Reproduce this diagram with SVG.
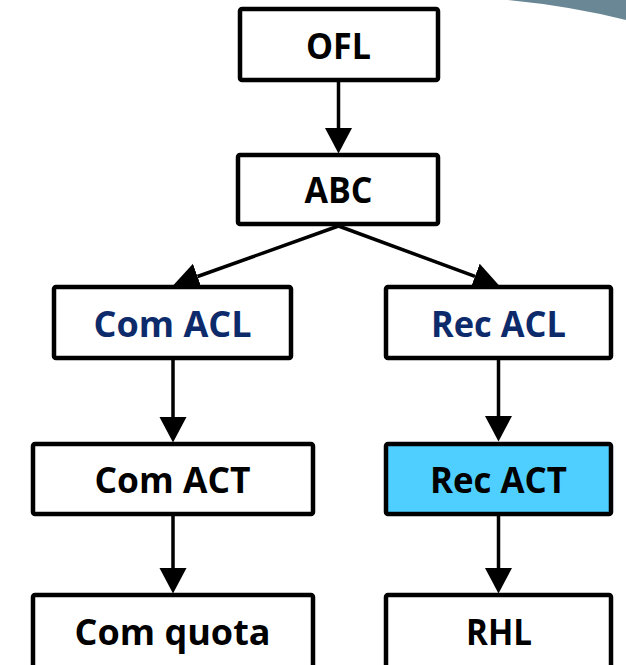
<svg xmlns="http://www.w3.org/2000/svg" width="626" height="665" viewBox="0 0 626 665">
  <style>
    .box { fill: #ffffff; stroke: #000000; stroke-width: 4.5; stroke-linejoin: round; }
    .hl { fill: #4fcfff; }
    .lbl { font-family: "Open Sans", "Liberation Sans", sans-serif; font-weight: 700; font-size: 36px; fill: #000000; text-anchor: middle; }
    .navy { fill: #0d2a6b; }
    .wire { fill: none; stroke: #000000; stroke-width: 3.5; }
  </style>
  <defs>
    <marker id="head" markerUnits="userSpaceOnUse" markerWidth="26" markerHeight="28" refX="0" refY="13.5" orient="auto">
      <path d="M0,0 L25.5,13.5 L0,27 Z" fill="#000000"/>
    </marker>
  </defs>

  <rect width="626" height="665" fill="#ffffff"/>
  <!-- slate corner accent -->
  <path d="M508,0 L626,0 L626,20 Q570,6 508,0 Z" fill="#6a8795"/>

  <g id="connectors">
    <line class="wire" x1="338.5" y1="82" x2="338.5" y2="128" marker-end="url(#head)"/>
    <line class="wire" x1="338.5" y1="226" x2="197.5" y2="276.5" marker-end="url(#head)"/>
    <line class="wire" x1="338.5" y1="226" x2="475" y2="276.4" marker-end="url(#head)"/>
    <line class="wire" x1="173" y1="360" x2="173" y2="417" marker-end="url(#head)"/>
    <line class="wire" x1="173" y1="516" x2="173" y2="568" marker-end="url(#head)"/>
    <line class="wire" x1="498.5" y1="360" x2="498.5" y2="416" marker-end="url(#head)"/>
    <line class="wire" x1="498.5" y1="516" x2="498.5" y2="568" marker-end="url(#head)"/>
  </g>

  <g id="ofl">
    <rect class="box" x="240" y="9" width="198" height="71" rx="2"/>
    <text class="lbl" x="338.5" y="58.5" textLength="65" lengthAdjust="spacingAndGlyphs">OFL</text>
  </g>
  <g id="abc">
    <rect class="box" x="238" y="155" width="200" height="69" rx="2"/>
    <text class="lbl" x="338.5" y="203" textLength="68" lengthAdjust="spacingAndGlyphs">ABC</text>
  </g>
  <g id="com-acl">
    <rect class="box" x="54" y="287" width="237" height="71" rx="2"/>
    <text class="lbl navy" x="172.5" y="337" textLength="158" lengthAdjust="spacingAndGlyphs">Com ACL</text>
  </g>
  <g id="rec-acl">
    <rect class="box" x="386" y="287" width="225" height="71" rx="2"/>
    <text class="lbl navy" x="498.5" y="336.5" textLength="135" lengthAdjust="spacingAndGlyphs">Rec ACL</text>
  </g>
  <g id="com-act">
    <rect class="box" x="33" y="444" width="280" height="70" rx="2"/>
    <text class="lbl" x="172.5" y="493" textLength="156" lengthAdjust="spacingAndGlyphs">Com ACT</text>
  </g>
  <g id="rec-act">
    <rect class="box hl" x="386" y="444" width="225" height="70" rx="2"/>
    <text class="lbl" x="498.5" y="493" textLength="137" lengthAdjust="spacingAndGlyphs">Rec ACT</text>
  </g>
  <g id="com-quota">
    <rect class="box" x="33" y="595" width="280" height="80" rx="2"/>
    <text class="lbl" x="172.5" y="645" textLength="196" lengthAdjust="spacingAndGlyphs">Com quota</text>
  </g>
  <g id="rhl">
    <rect class="box" x="386" y="595" width="225" height="80" rx="2"/>
    <text class="lbl" x="499" y="645" textLength="66" lengthAdjust="spacingAndGlyphs">RHL</text>
  </g>
</svg>
